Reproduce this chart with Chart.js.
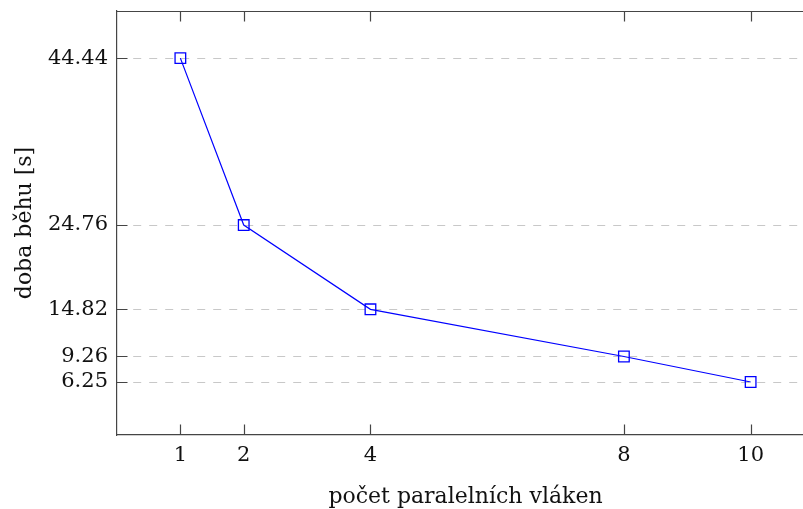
<!DOCTYPE html>
<html>
<head>
<meta charset="utf-8">
<script src="https://cdn.jsdelivr.net/npm/chart.js@4.4.1/dist/chart.umd.min.js"></script>
<style>
  html, body { margin:0; padding:0; background:#fff; overflow:hidden; }
</style>
</head>
<body>
<!-- the plot box runs past the right edge of the window, like the original -->
<canvas id="graf" width="814" height="509"></canvas>
<script>
// data
const vlakna = [1, 2, 4, 8, 10];
const dobaBehu = [44.44, 24.76, 14.82, 9.26, 6.25];
const xTicks = [1, 2, 4, 8, 10];
const yTicks = [6.25, 9.26, 14.82, 24.76, 44.44];

const barvaOsy = "#454545";

// inward tick marks + top frame line (pgfplots style)
const ramecek = {
  id: "ramecek",
  afterDraw(chart){
    const {ctx, chartArea, scales} = chart;
    const delka = 10.5;
    ctx.save();
    ctx.strokeStyle = barvaOsy;
    ctx.lineWidth = 1.2;
    ctx.beginPath();
    ctx.moveTo(chartArea.left, chartArea.top + 0.5);
    ctx.lineTo(chartArea.right, chartArea.top + 0.5);
    xTicks.forEach(v=>{
      const x = Math.round(scales.x.getPixelForValue(v)) + 0.5;
      ctx.moveTo(x, chartArea.top);
      ctx.lineTo(x, chartArea.top + delka);
      ctx.moveTo(x, chartArea.bottom);
      ctx.lineTo(x, chartArea.bottom - delka);
    });
    yTicks.forEach(v=>{
      const y = Math.round(scales.y.getPixelForValue(v)) + 0.5;
      ctx.moveTo(chartArea.left, y);
      ctx.lineTo(chartArea.left + delka, y);
    });
    ctx.stroke();
    ctx.restore();
  }
};

Chart.defaults.font.family = '"DejaVu Serif", serif';
Chart.defaults.color = "#111";

new Chart(document.getElementById("graf"), {
  type: "line",
  data: {
    datasets: [{
      data: vlakna.map((v, i) => ({x: v, y: dobaBehu[i]})),
      borderColor: "#0000ff",
      borderWidth: 1.2,
      tension: 0,
      pointStyle: "rect",
      pointRadius: 7.5,
      pointBorderWidth: 1.3,
      pointBorderColor: "#0000ff",
      pointBackgroundColor: "rgba(0,0,0,0)",
      fill: false
    }]
  },
  options: {
    responsive: false,
    animation: false,
    layout: { padding: 0, autoPadding: false },
    plugins: { legend: { display: false }, tooltip: { enabled: false } },
    scales: {
      x: {
        type: "linear",
        min: 0,
        max: 11,
        afterBuildTicks: s => { s.ticks = xTicks.map(v => ({value: v})); },
        afterFit: s => { s.height = 74; s.paddingLeft = 0; s.paddingRight = 0; },
        ticks: { font: { size: 21 }, padding: 8, maxRotation: 0, callback: v => String(v) },
        grid: { display: false, drawTicks: false },
        border: { display: true, color: barvaOsy, width: 1.2 },
        title: { display: true, text: "počet paralelních vláken", font: { size: 22 }, padding: { top: 0, bottom: -1 } }
      },
      y: {
        min: 0,
        max: 50,
        afterBuildTicks: s => { s.ticks = yTicks.map(v => ({value: v})); },
        afterFit: s => { s.width = 117; s.paddingTop = 11; s.paddingBottom = 0; },
        ticks: { font: { size: 21 }, padding: 9, callback: v => String(v) },
        grid: { color: "#c8c8c8", lineWidth: 1, drawTicks: false },
        border: { display: true, color: barvaOsy, width: 1.2, dash: [8, 8] },
        title: { display: true, text: "doba běhu [s]", font: { size: 22 }, padding: { top: 12, bottom: 0 } }
      }
    }
  },
  plugins: [ramecek]
});
</script>
</body>
</html>
